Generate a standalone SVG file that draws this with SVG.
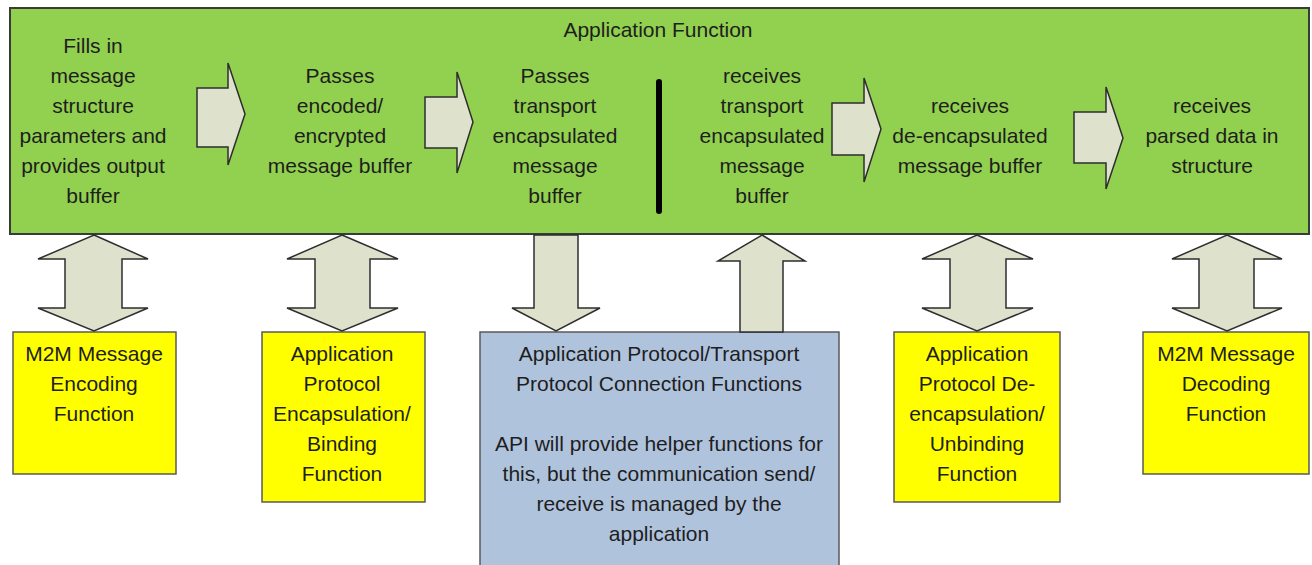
<svg xmlns="http://www.w3.org/2000/svg" width="1312" height="565" viewBox="0 0 1312 565">
<defs>
<style>
text{font-family:"Liberation Sans",Arial,sans-serif;font-size:21px;fill:#1e1e1e;text-anchor:middle}
.green{fill:#92d050;stroke:#3a3a3a;stroke-width:2}
.yellow{fill:#ffff00;stroke:#5a5a5a;stroke-width:1.5}
.blue{fill:#b0c3dd;stroke:#5a5a5a;stroke-width:1.5}
.arrow{fill:#dee1cc;stroke:#2e2e2e;stroke-width:1.5;stroke-linejoin:miter}
</style>
</defs>
<rect width="1312" height="565" fill="#ffffff"/>
<g id="application-function">
<rect class="green" x="10" y="8" width="1299" height="226"/>
<text x="658" y="37">Application Function</text>
<line x1="659" y1="82" x2="659" y2="211" stroke="#000" stroke-width="6" stroke-linecap="round"/>
</g>
<g id="step1"><text x="93" y="53">Fills in</text><text x="93" y="83">message</text><text x="93" y="113">structure</text><text x="93" y="143">parameters and</text><text x="93" y="173">provides output</text><text x="93" y="203">buffer</text></g>
<g id="step2"><text x="340" y="83">Passes</text><text x="340" y="113">encoded/</text><text x="340" y="143">encrypted</text><text x="340" y="173">message buffer</text></g>
<g id="step3"><text x="555" y="83">Passes</text><text x="555" y="113">transport</text><text x="555" y="143">encapsulated</text><text x="555" y="173">message</text><text x="555" y="203">buffer</text></g>
<g id="step4"><text x="762" y="83">receives</text><text x="762" y="113">transport</text><text x="762" y="143">encapsulated</text><text x="762" y="173">message</text><text x="762" y="203">buffer</text></g>
<g id="step5"><text x="970" y="113">receives</text><text x="970" y="143">de-encapsulated</text><text x="970" y="173">message buffer</text></g>
<g id="step6"><text x="1212" y="113">receives</text><text x="1212" y="143">parsed data in</text><text x="1212" y="173">structure</text></g>
<g id="encoding">
<rect class="yellow" x="13" y="332" width="163" height="142"/>
<text x="94" y="361">M2M Message</text><text x="94" y="391">Encoding</text><text x="94" y="421">Function</text>
</g>
<g id="encapsulation">
<rect class="yellow" x="262" y="332" width="163" height="170"/>
<text x="342" y="361">Application</text><text x="342" y="391">Protocol</text><text x="342" y="421">Encapsulation/</text><text x="342" y="451">Binding</text><text x="342" y="481">Function</text>
</g>
<g id="connection">
<rect class="blue" x="480" y="332" width="359" height="245"/>
<text x="659" y="361">Application Protocol/Transport</text><text x="659" y="391">Protocol Connection Functions</text>
<text x="659" y="451">API will provide helper functions for</text><text x="659" y="481">this, but the communication send/</text><text x="659" y="511">receive is managed by the</text><text x="659" y="541">application</text>
</g>
<g id="deencapsulation">
<rect class="yellow" x="894" y="332" width="166" height="170"/>
<text x="977" y="361">Application</text><text x="977" y="391">Protocol De-</text><text x="977" y="421">encapsulation/</text><text x="977" y="451">Unbinding</text><text x="977" y="481">Function</text>
</g>
<g id="decoding">
<rect class="yellow" x="1143" y="332" width="166" height="142"/>
<text x="1226" y="361">M2M Message</text><text x="1226" y="391">Decoding</text><text x="1226" y="421">Function</text>
</g>
<g id="connectors">
<path class="arrow" d="M197,88 H228 V63 L245,114 L228,165 V147 H197 Z"/>
<path class="arrow" d="M425,97 H457 V72 L473,122 L457,173 V148 H425 Z"/>
<path class="arrow" d="M832,103 H864 V78 L881,129 L864,182 V155 H832 Z"/>
<path class="arrow" d="M1074,112 H1106 V87 L1123,138 L1106,189 V163 H1074 Z"/>
<path class="arrow" d="M94,235 L148,259 H122 V308 H148 L94,331 L38,308 H65 V259 H38 Z"/>
<path class="arrow" d="M342,235 L398,259 H370 V308 H398 L342,331 L287,308 H315 V259 H287 Z"/>
<path class="arrow" d="M534,235 H578 V308 H600 L556,331 L512,308 H534 Z"/>
<path class="arrow" d="M762,235 L805,261 H783 V332 H740 V261 H718 Z"/>
<path class="arrow" d="M977,235 L1033,259 H1006 V308 H1033 L977,331 L922,308 H950 V259 H922 Z"/>
<path class="arrow" d="M1227,235 L1282,259 H1254 V308 H1282 L1227,331 L1172,308 H1199 V259 H1172 Z"/>
</g>
</svg>
